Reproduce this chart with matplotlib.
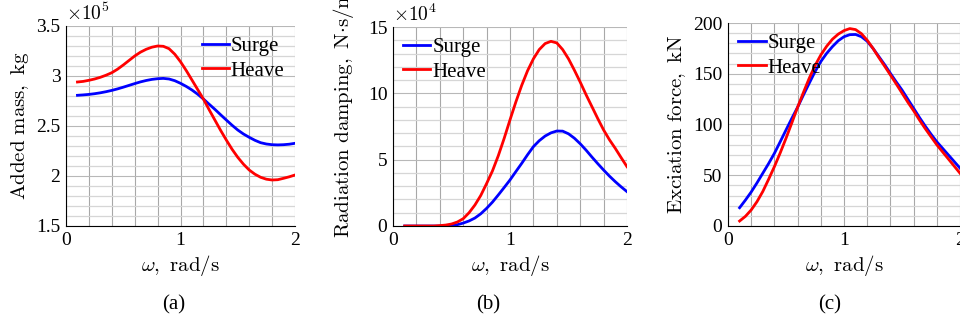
import matplotlib
matplotlib.use("Agg")
import matplotlib.pyplot as plt
from matplotlib.ticker import MultipleLocator

plt.rcParams['font.family'] = ['Liberation Serif', 'DejaVu Serif']
plt.rcParams['mathtext.fontset'] = 'cm'

# frequency, rad/s
omega = [0.10, 0.15, 0.20, 0.25, 0.30, 0.35, 0.40, 0.45, 0.50, 0.55,
         0.60, 0.65, 0.70, 0.75, 0.80, 0.85, 0.90, 0.95, 1.00, 1.05,
         1.10, 1.15, 1.20, 1.25, 1.30, 1.35, 1.40, 1.45, 1.50, 1.55,
         1.60, 1.65, 1.70, 1.75, 1.80, 1.85, 1.90, 1.95, 2.00]

# added mass, x1e5 kg
added_surge = [2.807, 2.811, 2.816, 2.823, 2.832, 2.843, 2.856, 2.871, 2.888, 2.906,
               2.924, 2.941, 2.955, 2.966, 2.973, 2.976, 2.970, 2.953, 2.927, 2.896,
               2.860, 2.818, 2.770, 2.718, 2.667, 2.613, 2.560, 2.508, 2.460, 2.420,
               2.387, 2.357, 2.333, 2.320, 2.313, 2.311, 2.313, 2.318, 2.327]
added_heave = [2.940, 2.946, 2.957, 2.970, 2.987, 3.008, 3.033, 3.068, 3.110, 3.155,
               3.200, 3.238, 3.267, 3.288, 3.300, 3.297, 3.273, 3.218, 3.143, 3.055,
               2.960, 2.865, 2.770, 2.663, 2.560, 2.457, 2.360, 2.268, 2.187, 2.118,
               2.060, 2.018, 1.987, 1.968, 1.960, 1.963, 1.977, 1.992, 2.010]

# radiation damping, x1e4 N.s/m
damp_surge = [0.0, 0.0, 0.0, 0.0, 0.0, 0.0, 0.0, 0.01, 0.03, 0.1,
              0.22, 0.38, 0.6, 0.92, 1.33, 1.8, 2.34, 2.9, 3.47, 4.1,
              4.72, 5.37, 5.98, 6.43, 6.78, 7.02, 7.16, 7.15, 6.95, 6.62,
              6.2, 5.72, 5.2, 4.7, 4.22, 3.76, 3.34, 2.95, 2.59]
damp_heave = [0.0, 0.0, 0.0, 0.0, 0.0, 0.0, 0.03, 0.07, 0.15, 0.3,
              0.55, 1.0, 1.58, 2.3, 3.2, 4.15, 5.3, 6.6, 8.0, 9.35,
              10.6, 11.7, 12.6, 13.3, 13.75, 13.92, 13.8, 13.3, 12.6, 11.75,
              10.85, 9.9, 9.0, 8.1, 7.24, 6.5, 5.85, 5.15, 4.47]

# excitation force, kN
exc_surge = [18, 25.5, 33.5, 42.5, 52, 61.5, 71.6, 83, 94.6, 106,
             117, 129, 140.6, 152, 162, 170, 176.7, 182.5, 186.5, 188.5,
             188.7, 186.5, 182, 175, 167, 159, 150.4, 142, 134, 125,
             116, 107, 98.5, 90.5, 83, 76.5, 70, 63.5, 57]
exc_heave = [4.9, 9.5, 15.8, 24, 34, 46, 58.5, 72, 86.4, 101.5,
             117, 131.5, 145.5, 158, 168.5, 177, 184, 189, 192.5, 194.5,
             193.5, 189.5, 183, 175, 166, 157.5, 148.8, 140, 131, 122,
             113.6, 104.5, 96, 88, 80, 73, 66, 59, 52]

blue = '#0000ff'
red = '#ff0000'
lw = 2.0


def style_axes(ax, ylo, yhi, ymaj, ymin):
    ax.set_xlim(0, 2)
    ax.set_ylim(ylo, yhi)
    ax.xaxis.set_major_locator(MultipleLocator(1))
    ax.xaxis.set_minor_locator(MultipleLocator(0.2))
    ax.yaxis.set_major_locator(MultipleLocator(ymaj))
    ax.yaxis.set_minor_locator(MultipleLocator(ymin))
    # vertical lines darker, horizontal minor lines lighter (like the original)
    ax.xaxis.grid(True, which='both', color='#a8a8a8', lw=0.8)
    ax.yaxis.grid(True, which='major', color='#b8b8b8', lw=0.8)
    ax.yaxis.grid(True, which='minor', color='#d6d6d6', lw=0.9)
    ax.set_axisbelow(True)
    for s in ['top', 'right']:
        ax.spines[s].set_visible(False)
    ax.tick_params(which='both', length=0, labelsize=14, pad=4)
    ax.set_xlabel(r'$\omega\mathrm{,\ rad/s}$', fontsize=15, labelpad=3)


def add_legend(ax, loc):
    ax.legend(loc=loc, frameon=False, fontsize=15, handlelength=1.3,
              handletextpad=0.1, borderaxespad=0.1, labelspacing=0.25)


fig = plt.figure(figsize=(9.6, 3.26), dpi=100)

# (a) added mass
ax1 = fig.add_axes([66/960, 1-226/326, 229/960, 200/326])
ax1.plot(omega, added_surge, color=blue, lw=lw, label='Surge')
ax1.plot(omega, added_heave, color=red, lw=lw, label='Heave')
style_axes(ax1, 1.5, 3.5, 0.5, 0.1)
ax1.set_yticks([1.5, 2, 2.5, 3, 3.5])
ax1.set_yticklabels(['1.5', '2', '2.5', '3', '3.5'])
ax1.set_ylabel(r'$\mathrm{Added\ mass,\ kg}$', fontsize=15, labelpad=4)
ax1.text(0.0, 1.01, r'$\times10^5$', transform=ax1.transAxes, fontsize=14,
         ha='left', va='bottom')
add_legend(ax1, 'upper right')

# (b) radiation damping
ax2 = fig.add_axes([393/960, 1-226/326, 234/960, 199/326])
ax2.plot(omega, damp_surge, color=blue, lw=lw, label='Surge')
ax2.plot(omega, damp_heave, color=red, lw=lw, label='Heave')
style_axes(ax2, 0, 15, 5, 1)
ax2.set_ylabel(r'$\mathrm{Radiation\ damping,\ N{\cdot}s/m}$', fontsize=15)
ax2.yaxis.set_label_coords(-0.16, 0.565)
ax2.text(0.0, 1.01, r'$\times10^4$', transform=ax2.transAxes, fontsize=14,
         ha='left', va='bottom')
add_legend(ax2, 'upper left')

# (c) excitation force
ax3 = fig.add_axes([728/960, 1-226/326, 232/960, 203/326])
ax3.plot(omega, exc_surge, color=blue, lw=lw, label='Surge')
ax3.plot(omega, exc_heave, color=red, lw=lw, label='Heave')
style_axes(ax3, 0, 200, 50, 10)
ax3.set_ylabel(r'$\mathrm{Exciation\ force,\ kN}$', fontsize=15, labelpad=4)
add_legend(ax3, 'upper left')

for x, lab in [(174, '(a)'), (488, '(b)'), (830, '(c)')]:
    fig.text(x/960, 1-305/326, lab, ha='center', va='center', fontsize=15)

fig.savefig('out.png', dpi=100)
